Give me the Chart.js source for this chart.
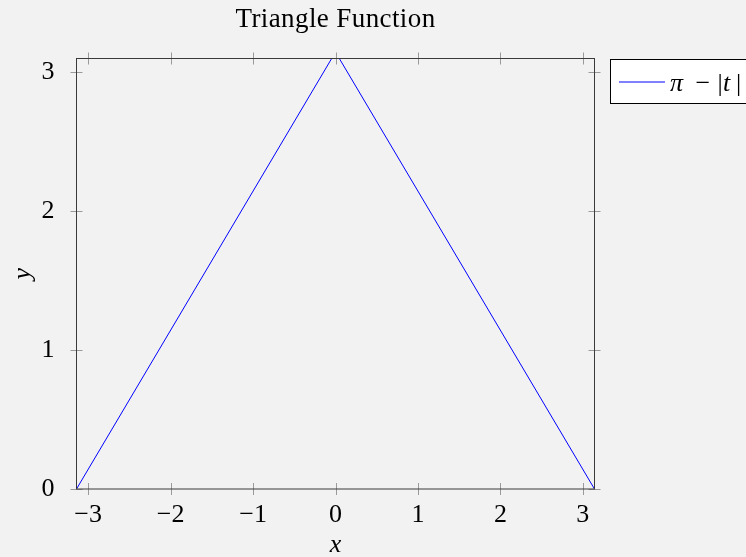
<!DOCTYPE html>
<html>
<head>
<meta charset="utf-8">
<title>Triangle Function</title>
<script src="https://cdn.jsdelivr.net/npm/chart.js@4.4.0/dist/chart.umd.min.js"></script>
<style>
  html, body { margin: 0; padding: 0; background: #f2f2f2; }
  #wrap { width: 746px; height: 557px; }
</style>
</head>
<body>
<div id="wrap"><canvas id="c" width="746" height="557"></canvas></div>
<script>
// Sampled points of pi - |t| on [-pi, pi]
const tValues = [-3.14159, -0.0465, 0.0465, 3.14159];
const yValues = [0, 3.0951, 3.0951, 0];
const xTickValues = [-3, -2, -1, 0, 1, 2, 3];
const yTickValues = [0, 1, 2, 3];
const titleText = 'Triangle Function';
const seriesLabel = 'π − |t|';

const SERIF = '"Liberation Serif", "DejaVu Serif", serif';
const FS = 26;

function fmt(v) {
  return v < 0 ? '\u2212' + Math.abs(v) : String(v);
}

const decor = {
  id: 'decor',
  afterDraw(chart) {
    const ctx = chart.ctx;
    const a = chart.chartArea;
    const xs = chart.scales.x, ys = chart.scales.y;
    ctx.save();

    // tick marks crossing every side of the frame
    ctx.strokeStyle = '#9a9a9a';
    ctx.lineWidth = 1;
    ctx.beginPath();
    xTickValues.forEach(v => {
      const px = Math.round(xs.getPixelForValue(v)) + 0.5;
      ctx.moveTo(px, a.top - 6); ctx.lineTo(px, a.top + 6);
      ctx.moveTo(px, a.bottom - 6); ctx.lineTo(px, a.bottom + 6);
    });
    yTickValues.forEach(v => {
      const py = Math.round(ys.getPixelForValue(v)) + 0.5;
      ctx.moveTo(a.left - 6, py); ctx.lineTo(a.left + 6, py);
      ctx.moveTo(a.right - 6, py); ctx.lineTo(a.right + 6, py);
    });
    ctx.stroke();

    // frame
    ctx.strokeStyle = '#3a3a3a';
    ctx.strokeRect(a.left, a.top, a.right - a.left, a.bottom - a.top);

    // title
    ctx.fillStyle = '#000';
    ctx.font = '27px ' + SERIF;
    ctx.textAlign = 'center';
    ctx.textBaseline = 'alphabetic';
    ctx.letterSpacing = '0.4px';
    ctx.fillText(titleText, (a.left + a.right) / 2, 27);
    ctx.letterSpacing = '0px';

    // axis labels
    ctx.font = 'italic ' + FS + 'px ' + SERIF;
    ctx.fillText('x', (a.left + a.right) / 2, 552);
    ctx.save();
    ctx.translate(30, (a.top + a.bottom) / 2);
    ctx.rotate(-Math.PI / 2);
    ctx.fillText('y', 0, 0);
    ctx.restore();

    // legend box
    ctx.fillStyle = '#ffffff';
    ctx.fillRect(610.5, 59.5, 150, 44);
    ctx.strokeStyle = '#000';
    ctx.strokeRect(610.5, 59.5, 150, 44);
    ctx.strokeStyle = '#0000ff';
    ctx.beginPath();
    ctx.moveTo(619, 82); ctx.lineTo(665, 82);
    ctx.stroke();

    // legend text: italic symbols, upright operator and bars
    ctx.fillStyle = '#000';
    ctx.textAlign = 'left';
    const base = 91;
    const parts = [['π', true, 670], ['\u2212', false, 695.5], ['|', false, 717.5], ['t', true, 723], ['|', false, 736]];
    parts.forEach(([s, it, px]) => {
      ctx.font = (it ? 'italic ' : '') + FS + 'px ' + SERIF;
      ctx.fillText(s, px, base);
    });
    ctx.restore();
  }
};

new Chart(document.getElementById('c'), {
  type: 'line',
  data: {
    labels: tValues,
    datasets: [{
      label: seriesLabel,
      data: tValues.map((t, i) => ({ x: t, y: yValues[i] })),
      borderColor: '#0000ff',
      borderWidth: 1,
      pointRadius: 0,
      tension: 0,
      fill: false
    }]
  },
  options: {
    responsive: false,
    animation: false,
    layout: { padding: { left: 0, right: 151.5, top: 58.5, bottom: 0 } },
    plugins: {
      legend: { display: false },
      title: { display: false },
      tooltip: { enabled: false }
    },
    scales: {
      x: {
        type: 'linear',
        min: -Math.PI,
        max: Math.PI,
        grid: { display: false },
        border: { display: false },
        afterBuildTicks: s => { s.ticks = xTickValues.map(v => ({ value: v })); },
        afterFit: s => { s.height = 68; },
        ticks: {
          color: '#000',
          padding: 3,
          maxRotation: 0,
          font: { family: SERIF, size: FS },
          callback: v => fmt(v)
        }
      },
      y: {
        type: 'linear',
        min: 0,
        max: 3.0951,
        grid: { display: false },
        border: { display: false },
        afterBuildTicks: s => { s.ticks = yTickValues.map(v => ({ value: v })); },
        afterFit: s => { s.width = 76.5; },
        ticks: {
          color: '#000',
          padding: 14,
          font: { family: SERIF, size: FS },
          callback: v => fmt(v)
        }
      }
    }
  },
  plugins: [decor]
});
</script>
</body>
</html>
